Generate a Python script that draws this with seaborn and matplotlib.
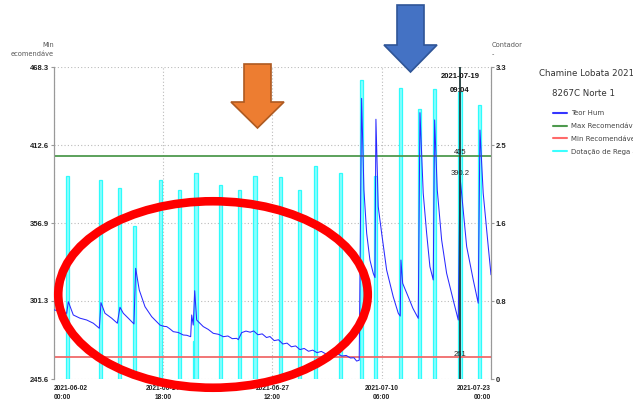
import pandas as pd
import seaborn as sns
import matplotlib.pyplot as plt
from matplotlib.lines import Line2D
from matplotlib.patches import Ellipse, Polygon

start = pd.Timestamp("2021-06-02 00:00")
end = pd.Timestamp("2021-07-23 00:00")

# Teor Hum (left axis): days after start, value
hum_days = [0.00, 1.48, 1.67, 2.25, 3.03, 3.82, 4.59, 5.29, 5.48, 5.95, 6.73, 7.39,
            7.70, 8.09, 8.67, 9.33, 9.53, 9.95, 10.62, 11.40, 12.37, 12.80, 13.15,
            13.50, 13.92, 14.50, 15.09, 15.50, 15.95, 16.07, 16.25, 16.42, 16.65,
            17.42, 18.00, 18.59, 19.20, 19.76, 20.30, 20.80, 21.32, 21.51, 21.90,
            22.40, 22.90, 23.30, 23.80, 24.30, 24.80, 25.20, 25.70, 26.20, 26.70,
            27.20, 27.70, 28.20, 28.70, 29.20, 29.70, 30.20, 30.70, 31.20, 31.70,
            32.20, 32.60, 33.10, 33.60, 34.10, 34.60, 35.00, 35.32, 35.62,
            35.90, 36.17, 36.49, 36.87, 37.26, 37.46, 37.57, 37.84, 38.24, 38.82,
            39.59, 40.18, 40.41, 40.49, 40.69, 41.34, 41.89, 42.51, 42.71, 43.09,
            43.49, 43.87, 44.26, 44.42, 44.73, 45.24, 45.82, 46.59, 47.18, 47.38,
            47.57, 48.16, 48.93, 49.51, 49.71, 50.09, 50.68, 51.00]
hum_vals = [295.0, 292.5, 300.8, 291.3, 289.0, 287.7, 285.4, 281.8, 300.1, 292.5, 289.0, 285.4,
            296.8, 292.5, 289.0, 284.9, 324.6, 309.1, 297.2, 290.1, 284.1, 283.2, 283.0,
            281.5, 279.4, 278.8, 277.0, 276.8, 275.8, 291.3, 284.1, 308.6, 287.7,
            283.0, 281.0, 278.2, 277.5, 275.8, 276.3, 274.4, 274.6, 273.7, 278.7,
            279.8, 279.0, 279.9, 277.2, 277.8, 275.2, 275.9, 273.0, 273.6, 270.6,
            271.2, 268.6, 269.2, 266.6, 267.4, 265.4, 266.2, 264.4, 265.3, 263.6,
            264.4, 263.0, 263.6, 262.0, 262.4, 260.6, 260.8, 258.4, 259.0,
            445.9, 380.5, 349.6, 330.5, 321.0, 318.0, 431.0, 368.6, 349.6, 323.4,
            304.3, 292.5, 290.5, 330.5, 313.9, 304.3, 296.0, 288.9, 435.7, 378.2,
            349.6, 325.8, 316.3, 430.5, 380.5, 344.8, 321.1, 302.0, 287.7, 390.2,
            378.2, 340.1, 316.3, 299.7, 423.3, 378.2, 340.0, 320.0]

# Dotação de Rega (right axis)
rega_days = [1.60, 5.45, 7.62, 9.42, 12.40, 14.62, 16.42, 16.57, 19.45, 21.62, 23.45,
             26.41, 28.62, 30.49, 33.46, 35.86, 37.49, 40.41, 42.67, 44.42, 47.38, 49.63]
rega_vals = [2.15, 2.11, 2.02, 1.62, 2.10, 2.00, 0.40, 2.18, 2.05, 2.00, 2.15,
             2.14, 2.00, 2.25, 2.18, 3.16, 2.15, 3.08, 2.86, 3.07, 3.04, 2.90]

max_rec = 405
min_rec = 261
cursor = pd.Timestamp("2021-07-19 09:04")
cursor_hum = 390.2

left_ticks = [245.6, 301.3, 356.9, 412.6, 468.3]
right_ticks = [0, 0.825, 1.65, 2.475, 3.3]
right_labels = ["0", "0.8", "1.6", "2.5", "3.3"]
x_ticks = ["2021-06-02 00:00", "2021-06-14 18:00", "2021-06-27 12:00",
           "2021-07-10 06:00", "2021-07-23 00:00"]
legend_labels = ["Teor Hum", "Max Recomendáve", "Min Recomendáve", "Dotação de Rega -"]
legend_colors = ["#3535ff", "#4e9a4e", "#ff6a6a", "#3cffff"]

W, H = 633, 400

def fx(px):
    return px / W

def fy(py):
    return 1 - py / H

sns.set_style("white")
plt.rcParams['font.family'] = ['DejaVu Sans']

fig = plt.figure(figsize=(6.33, 4.0), dpi=100)
ax = fig.add_axes([fx(54), fy(379), fx(491) - fx(54), fy(67) - fy(379)])
ax2 = ax.twinx()
ax.set_zorder(ax2.get_zorder() + 1)
ax.patch.set_visible(False)

hum_t = start + pd.to_timedelta(hum_days, unit="D")
rega_t = start + pd.to_timedelta(rega_days, unit="D")

ax2.bar(rega_t, rega_vals, width=0.38, color="#8affff", edgecolor="#2efcfc",
        linewidth=0.9, zorder=2)
sns.lineplot(x=hum_t, y=hum_vals, ax=ax, color="#2a2aff", lw=0.75, zorder=3)
ax.axhline(max_rec, color="#4e9a4e", lw=1.3, zorder=2)
ax.axhline(min_rec, color="#f06a6a", lw=1.3, zorder=2)
ax.axvline(cursor, color="#1f3a3a", lw=1.3, zorder=4)

ax.set_xlim(start, end)
ax.set_ylim(left_ticks[0], left_ticks[-1])
ax2.set_ylim(0, 3.3)

ax.set_xticks(pd.to_datetime(x_ticks))
ax.set_xticklabels([pd.Timestamp(t).strftime("%Y-%m-%d\n%H:%M") for t in x_ticks])
ax.set_yticks(left_ticks)
ax.set_yticklabels([f"{v:.1f}" for v in left_ticks])
ax2.set_yticks(right_ticks)
ax2.set_yticklabels(right_labels)
ax.set_xlabel("")
ax.set_ylabel("")

ax.tick_params(axis='x', length=2, pad=2, labelsize=4.8, colors="#999999", labelcolor="#222222")
ax.tick_params(axis='y', length=2.5, pad=1, labelsize=5.5, colors="#999999", labelcolor="#222222")
ax2.tick_params(axis='y', length=2.5, pad=1, labelsize=5.5, colors="#999999", labelcolor="#222222")
for lab in ax.get_xticklabels() + ax.get_yticklabels() + ax2.get_yticklabels():
    lab.set_fontweight("bold")
    lab.set_family("Liberation Sans")
for lab in ax.get_xticklabels():
    lab.set_linespacing(1.5)
xl = ax.get_xticklabels()
xl[0].set_ha("left")
xl[-1].set_ha("right")

ax.grid(axis='x', color="#bbbbbb", ls=(0, (1, 2)), lw=0.8)
ax2.grid(axis='y', color="#bbbbbb", ls=(0, (1, 2)), lw=0.8)
ax2.set_axisbelow(True)

for a in (ax, ax2):
    a.spines['top'].set_visible(False)
    a.spines['bottom'].set_visible(False)
    a.spines['left'].set_color("#999999")
    a.spines['right'].set_color("#999999")

# cursor readouts
blend = ax.get_xaxis_transform()
ax.text(cursor, 0.968, cursor.strftime("%Y-%m-%d"), transform=blend, ha="center", va="center",
        fontsize=5.5, fontweight="bold", family="Liberation Sans", color="#111111", zorder=5)
ax.text(cursor, 0.926, cursor.strftime("%H:%M"), transform=blend, ha="center", va="center",
        fontsize=5.5, fontweight="bold", family="Liberation Sans", color="#111111", zorder=5)
for v in (max_rec, cursor_hum, min_rec):
    txt = f"{v:g}"
    ax.annotate(txt, (cursor, v), xytext=(0, 2.2), textcoords="offset points",
                ha="center", va="center", fontsize=5.5, family="Liberation Sans",
                color="#222222", zorder=5)

# axis titles
fig.text(fx(54), fy(49.5), "Min\necomendáve", ha="right", va="center", multialignment="right",
         fontsize=4.8, color="#555555", linespacing=1.6)
fig.text(fx(492), fy(49.5), "Contador\n-", ha="left", va="center", multialignment="left",
         fontsize=4.8, color="#555555", linespacing=1.6)

# legend block
fig.text(fx(539), fy(73), "Chamine Lobata 2021", ha="left", va="center", fontsize=6.2, color="#333333")
fig.text(fx(552), fy(93), "8267C Norte 1", ha="left", va="center", fontsize=6.2, color="#333333")
handles = [Line2D([], [], color=c, lw=1.5) for c in legend_colors]
fig.legend(handles, legend_labels, loc="upper left", bbox_to_anchor=(fx(553), fy(110)),
           frameon=False, fontsize=5, handlelength=2.0, handletextpad=0.6,
           labelspacing=1.0, borderpad=0, borderaxespad=0, labelcolor="#444444")

# overlaid callouts
orange = [(244, 64), (271, 64), (271, 102), (284, 102), (257.5, 128), (231, 102), (244, 102)]
blue = [(397, 5), (424, 5), (424, 45), (437, 45), (410.5, 72), (384, 45), (397, 45)]
fig.add_artist(Polygon([(fx(a), fy(b)) for a, b in orange], closed=True, transform=fig.transFigure,
                       facecolor="#ed7d31", edgecolor="#ae5a21", lw=1.2, zorder=10))
fig.add_artist(Polygon([(fx(a), fy(b)) for a, b in blue], closed=True, transform=fig.transFigure,
                       facecolor="#4472c4", edgecolor="#2f5597", lw=1.2, zorder=10))
fig.add_artist(Ellipse((fx(213), fy(294.5)), 309.5 / W, 186.5 / H, transform=fig.transFigure,
                       fill=False, edgecolor="#ff0000", lw=6.2, zorder=10))

fig.savefig("out.png", dpi=100)
